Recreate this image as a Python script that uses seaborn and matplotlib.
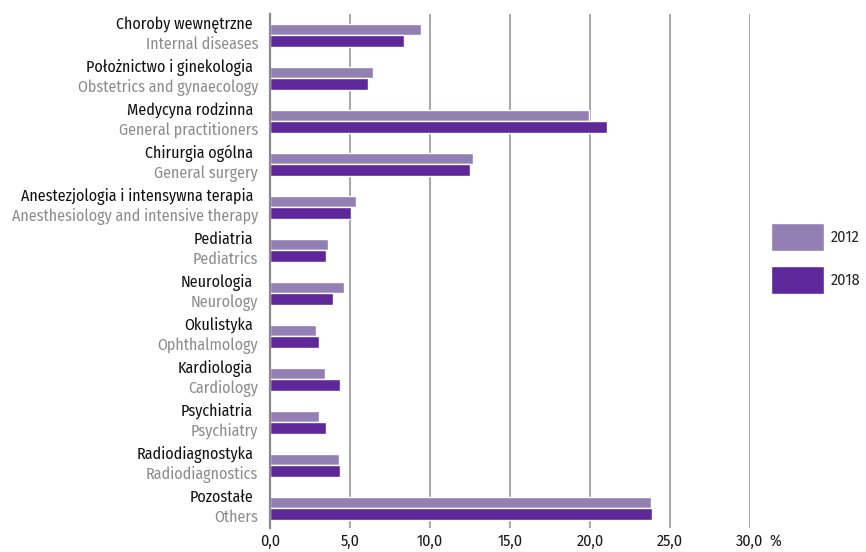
import matplotlib
matplotlib.use("Agg")
import matplotlib.pyplot as plt
import seaborn as sns
import pandas as pd

labels_pl = ["Choroby wewnętrzne", "Położnictwo i ginekologia", "Medycyna rodzinna",
             "Chirurgia ogólna", "Anestezjologia i intensywna terapia", "Pediatria",
             "Neurologia", "Okulistyka", "Kardiologia", "Psychiatria",
             "Radiodiagnostyka", "Pozostałe"]
labels_en = ["Internal diseases", "Obstetrics and gynaecology", "General practitioners",
             "General surgery", "Anesthesiology and intensive therapy", "Pediatrics",
             "Neurology", "Ophthalmology", "Cardiology", "Psychiatry",
             "Radiodiagnostics", "Others"]
values_2012 = [9.45, 6.45, 19.95, 12.7, 5.4, 3.65, 4.65, 2.9, 3.45, 3.05, 4.3, 23.8]
values_2018 = [8.4, 6.15, 21.05, 12.5, 5.05, 3.5, 3.95, 3.05, 4.35, 3.5, 4.35, 23.9]
years = ["2012", "2018"]
xticks = [0, 5, 10, 15, 20, 25, 30]
xtick_labels = ["0,0", "5,0", "10,0", "15,0", "20,0", "25,0", "30,0"]

df = pd.DataFrame({
    "cat": labels_en * 2,
    "val": values_2012 + values_2018,
    "year": [years[0]] * len(labels_en) + [years[1]] * len(labels_en),
})

sns.set_theme(style="white")
plt.rcParams["font.family"] = ["Fira Sans Condensed", "DejaVu Sans"]
plt.rcParams["font.stretch"] = "condensed"

FS = 11.5

fig = plt.figure(figsize=(8.66, 5.52), dpi=100)
ax = fig.add_axes([270 / 866, 1 - 528 / 552, 480 / 866, (528 - 14) / 552])

pal = {"2012": "#9280b4", "2018": "#5e289a"}
sns.barplot(data=df, y="cat", x="val", hue="year", orient="h", palette=pal,
            width=0.53, saturation=1, ax=ax, order=labels_en)

ax.set_xlim(0, 30)
ax.set_ylim(11.46, -0.5)
ax.set_xticks(xticks)
ax.set_xticklabels(xtick_labels, fontsize=FS, color="#1a1a1a")
ax.tick_params(axis="x", length=0, pad=4)
ax.set_yticks([])
ax.set_xlabel("")
ax.set_ylabel("")
for s in ["top", "right", "bottom"]:
    ax.spines[s].set_visible(False)
ax.spines["left"].set_color("#8a8a8a")
ax.spines["left"].set_linewidth(1.6)
ax.grid(axis="x", color="#a0a0a0", linewidth=1.3)
ax.set_axisbelow(True)

for i, (pl, en) in enumerate(zip(labels_pl, labels_en)):
    ax.annotate(pl, xy=(0, i - 0.155), xycoords=("axes fraction", "data"),
                xytext=(-17, 0), textcoords="offset pixels", ha="right", va="baseline",
                fontsize=FS, color="#111111")
    ax.annotate(en, xy=(0, i + 0.31), xycoords=("axes fraction", "data"),
                xytext=(-12, 0), textcoords="offset pixels", ha="right", va="baseline",
                fontsize=FS, color="#8c8c8c")

ax.annotate("%", xy=(1, 0), xycoords="axes fraction", xytext=(25, -5.5),
            textcoords="offset pixels", ha="center", va="top", fontsize=FS,
            color="#1a1a1a")

leg = ax.legend(loc="center left", bbox_to_anchor=(1.044, 0.525), frameon=False,
                fontsize=FS, handlelength=3.3, handleheight=2.3, labelspacing=0.95,
                handletextpad=0.42, borderpad=0, borderaxespad=0)

fig.savefig("out.png", dpi=100)
